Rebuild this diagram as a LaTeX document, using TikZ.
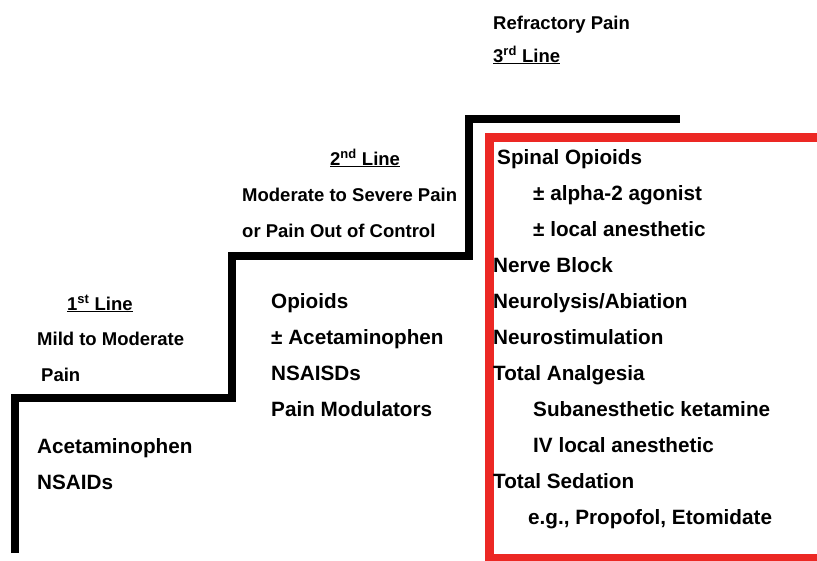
\documentclass[tikz,border=0pt]{standalone}
\usepackage{fontspec}
\setmainfont{Liberation Sans}
\definecolor{boxred}{RGB}{236,40,36}
\begin{document}
\begin{tikzpicture}[x=1pt, y=-1pt,
    head/.style={anchor=base west, inner sep=0pt, font=\bfseries\fontsize{18.5}{22}\selectfont},
    item/.style={anchor=base west, inner sep=0pt, font=\bfseries\fontsize{20.7}{24}\selectfont},
    stair/.style={line width=8pt, draw=black},
    redbox/.style={line width=9pt, draw=boxred}]
  \useasboundingbox (0,0) rectangle (817,560);
  \clip (0,0) rectangle (817,560);
  % stairs
  \draw[stair] (15,553) -- (15,398) -- (232,398) -- (232,256) -- (469,256) -- (469,119) -- (680,119);
  % open box, right side runs off the page
  \draw[redbox] (900,137) -- (489,137) -- (489,558.5) -- (900,558.5);
  % 1st line
  \node[head] (l1) at (67,310) {\underline{1\textsuperscript{st} Line}};
  \node[head] (l1a) at (37,345) {Mild to Moderate};
  \node[head] (l1b) at (41,381) {Pain};
  \node[item] (a1) at (37,453) {Acetaminophen};
  \node[item] (a2) at (37,489) {NSAIDs};
  % 2nd line
  \node[head] (l2) at (330,165) {\underline{2\textsuperscript{nd} Line}};
  \node[head] (l2a) at (242,201) {Moderate to Severe Pain};
  \node[head] (l2b) at (242,237) {or Pain Out of Control};
  \foreach \txt [count=\i] in {Opioids, ± Acetaminophen, NSAISDs, Pain Modulators} {
    \node[item] (b\i) at (271,272+36*\i) {\txt};
  }
  % 3rd line
  \node[head] (l3a) at (493,29) {Refractory Pain};
  \node[head] (l3) at (493,62) {\underline{3\textsuperscript{rd} Line}};
  \foreach \dx/\txt [count=\i] in {497/Spinal Opioids, 533/± alpha-2 agonist, 533/± local anesthetic,
      493/Nerve Block, 493/{Neurolysis/Abiation}, 493/Neurostimulation, 493/Total Analgesia,
      533/Subanesthetic ketamine, 533/IV local anesthetic, 493/Total Sedation,
      528/{e.g., Propofol, Etomidate}} {
    \node[item] (c\i) at (\dx,128+36*\i) {\txt};
  }
\end{tikzpicture}
\end{document}
